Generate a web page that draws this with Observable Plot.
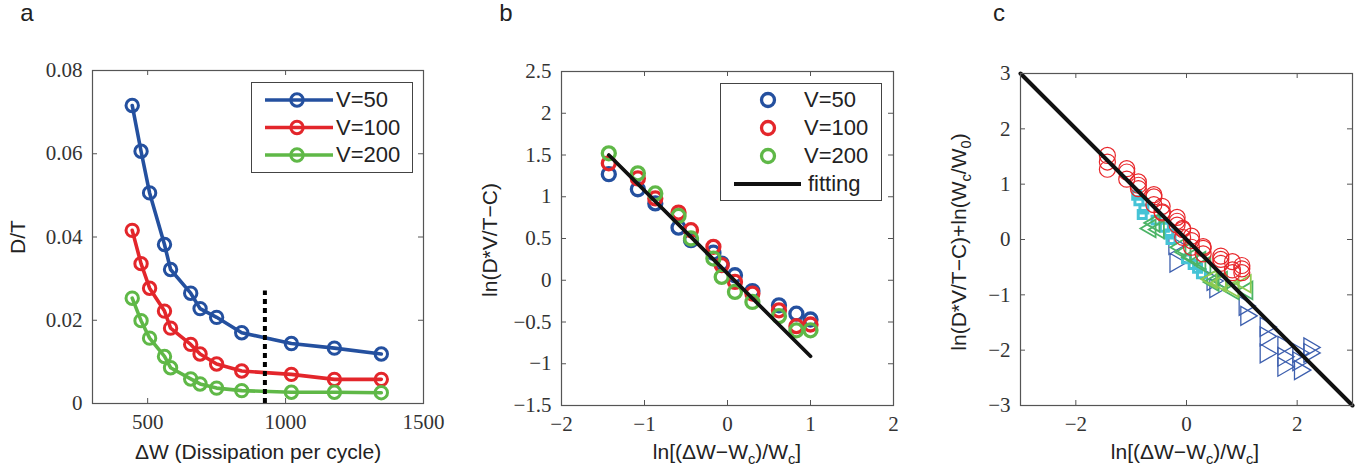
<!DOCTYPE html>
<html>
<head>
<meta charset="utf-8">
<script src="https://cdn.jsdelivr.net/npm/d3@7"></script>
<script src="https://cdn.jsdelivr.net/npm/@observablehq/plot@0.6"></script>
<style>
  html, body { margin: 0; padding: 0; background: #fff; }
  #root { position: relative; width: 1366px; height: 475px; overflow: hidden; }
  .plot { position: absolute; top: 0; }
  .lbl { position: absolute; font-family: "Liberation Sans", Arial, sans-serif; color: #222; white-space: nowrap; line-height: 1; }
  .ctr { transform: translate(-50%, -50%); }
  .rot { transform: translate(-50%, -50%) rotate(-90deg); }
  .lbl sub { font-size: 0.7em; vertical-align: -0.35em; line-height: 0; }
  .legend { position: absolute; border: 1px solid #444; background: #fff; }
  .legend .t { position: absolute; font-family: "Liberation Sans", Arial, sans-serif; font-size: 22px; color: #222; line-height: 1; transform: translateY(-50%); }
  .legend svg { position: absolute; left: 0; top: 0; overflow: visible; }
</style>
</head>
<body>
<div id="root"></div>
<script>
// ---------------- DATA ----------------
// Panel a: D/T vs ΔW
const seriesNames = ["V=50", "V=100", "V=200"];
const seriesColors = ["#24509f", "#e3262b", "#5fb847"];
const dW = [444, 476, 507, 561, 583, 656, 690, 750, 841, 1021, 1177, 1347];
const dtV50  = [0.0716, 0.0606, 0.0506, 0.0382, 0.0322, 0.0265, 0.0228, 0.0207, 0.0170, 0.0144, 0.0133, 0.0119];
const dtV100 = [0.0416, 0.0336, 0.0277, 0.0222, 0.0181, 0.0142, 0.0119, 0.0095, 0.0078, 0.0070, 0.0058, 0.0058];
const dtV200 = [0.0253, 0.0199, 0.0157, 0.0113, 0.0086, 0.0059, 0.0047, 0.0037, 0.0031, 0.0027, 0.0027, 0.0026];
const dashW = 925;
const dashTop = 0.027;
const ticksAX = [500, 1000, 1500];
const ticksAY = [0, 0.02, 0.04, 0.06, 0.08];

// Panel b: ln(D*V/T-C) vs ln[(ΔW-Wc)/Wc]
const lnX    = [-1.43, -1.08, -0.87, -0.59, -0.44, -0.17, -0.07, 0.09, 0.30, 0.62, 0.83, 1.00];
const lnV50  = [1.27, 1.09, 0.92, 0.63, 0.48, 0.33, 0.20, 0.06, -0.13, -0.30, -0.40, -0.47];
const lnV100 = [1.40, 1.22, 0.98, 0.81, 0.60, 0.40, 0.18, -0.02, -0.16, -0.36, -0.55, -0.53];
const lnV200 = [1.52, 1.28, 1.04, 0.77, 0.50, 0.26, 0.04, -0.14, -0.26, -0.43, -0.60, -0.60];
const fitBX = [-1.43, 1.00];
const fitBY = [1.50, -0.91];
const ticksBX = [-2, -1, 0, 1, 2];
const ticksBY = [-1.5, -1, -0.5, 0, 0.5, 1, 1.5, 2, 2.5];

// Panel c: collapsed data
const blueTriX = [-0.22, -0.20, 0.47, 0.52, 1.05, 1.08, 1.43, 1.43, 1.43, 1.75, 1.75, 1.75, 2.02, 2.02, 2.05, 2.22, 2.22];
const blueTriY = [-0.10, -0.42, -0.75, -0.88, -1.20, -1.38, -1.58, -1.75, -2.06, -1.92, -2.12, -2.30, -2.05, -2.20, -2.36, -1.95, -2.05];
const cyanX = [-0.90, -0.86, -0.80, -0.77, -0.55, -0.40, -0.32, -0.28, 0.00, 0.12, 0.20, 0.27];
const cyanY = [0.80, 0.70, 0.45, 0.55, 0.35, 0.22, 0.10, 0.00, -0.35, -0.45, -0.52, -0.62];
const greenX = [-0.65, -0.58, -0.50, -0.11, -0.02, 0.10, 0.25, 0.34, 0.46, 0.49, 0.64, 0.85, 1.10];
const greenY = [0.20, 0.30, 0.18, -0.14, -0.23, -0.32, -0.38, -0.47, -0.71, -0.77, -0.74, -0.92, -0.92];
const limeX = [0.45, 0.62, 0.85, 1.07];
const limeY = [-0.72, -0.78, -0.88, -0.80];
const fitCX = [-3, 3];
const fitCY = [3, -3];
const ticksCX = [-2, 0, 2];
const ticksCY = [-3, -2, -1, 0, 1, 2, 3];

// ---------------- HELPERS ----------------
const fmt = d => String(d).replace("-", "\u2212");
const axisColor = "#555";
const textColor = "#333";
const baseStyle = {fontFamily: "'Liberation Serif', 'Times New Roman', serif", fontSize: "21px", color: textColor, background: "transparent", overflow: "visible"};

function boxTicks(xt, yt, fw, fh, len) {
  return [
    Plot.tickX(xt, {x: d => d, insetTop: fh - len, stroke: axisColor}),
    Plot.tickX(xt, {x: d => d, insetBottom: fh - len, stroke: axisColor}),
    Plot.tickY(yt, {y: d => d, insetRight: fw - len, stroke: axisColor}),
    Plot.tickY(yt, {y: d => d, insetLeft: fw - len, stroke: axisColor})
  ];
}
function axes(xt, yt) {
  return [
    Plot.axisX(xt, {tickSize: 0, tickPadding: 11, tickFormat: fmt, label: null, fill: textColor}),
    Plot.axisY(yt, {tickSize: 0, tickPadding: 10, tickFormat: fmt, label: null, fill: textColor})
  ];
}
function place(svg, left) {
  svg.classList.add("plot");
  svg.style.left = left + "px";
  svg.style.position = "absolute";
  svg.style.top = "0px";
  root.appendChild(svg);
}
function addLabel(html, x, y, size, rotate) {
  const d = document.createElement("div");
  d.className = "lbl " + (rotate ? "rot" : "ctr");
  d.style.left = x + "px";
  d.style.top = y + "px";
  d.style.fontSize = size + "px";
  d.innerHTML = html;
  root.appendChild(d);
}

const root = document.getElementById("root");

// ---------------- PANEL A ----------------
{
  const W = 450, H = 475, ml = 92, mr = 27, mt = 70, mb = 72;
  const fw = W - ml - mr, fh = H - mt - mb;
  const cols = [dtV50, dtV100, dtV200];
  const data = seriesNames.flatMap((s, k) => dW.map((w, i) => ({w, dt: cols[k][i], s})));
  const svg = Plot.plot({
    width: W, height: H, marginLeft: ml, marginRight: mr, marginTop: mt, marginBottom: mb,
    style: baseStyle,
    x: {domain: [300, 1500]},
    y: {domain: [0, 0.08]},
    color: {domain: seriesNames, range: seriesColors},
    marks: [
      ...boxTicks(ticksAX, ticksAY, fw, fh, 5),
      ...axes(ticksAX, ticksAY),
      Plot.line(data, {x: "w", y: "dt", z: "s", stroke: "s", strokeWidth: 3.6}),
      Plot.ruleX([dashW], {x: d => d, y1: 0, y2: dashTop, stroke: "#000", strokeWidth: 4, strokeDasharray: "5,4"}),
      Plot.dot(data, {x: "w", y: "dt", stroke: "s", r: 6.2, strokeWidth: 3, fill: "none"}),
      Plot.frame({stroke: axisColor, strokeWidth: 1.2})
    ]
  });
  place(svg, 0);
}

// ---------------- PANEL B ----------------
{
  const W = 460, H = 475, ml = 111, mr = 17, mt = 71, mb = 70;
  const fw = W - ml - mr, fh = H - mt - mb;
  const cols = [lnV50, lnV100, lnV200];
  const data = seriesNames.flatMap((s, k) => lnX.map((x, i) => ({x, y: cols[k][i], s})));
  const fit = fitBX.map((x, i) => ({x, y: fitBY[i]}));
  const svg = Plot.plot({
    width: W, height: H, marginLeft: ml, marginRight: mr, marginTop: mt, marginBottom: mb,
    style: baseStyle,
    x: {domain: [-2, 2]},
    y: {domain: [-1.5, 2.5]},
    color: {domain: seriesNames, range: seriesColors},
    marks: [
      ...boxTicks(ticksBX, ticksBY, fw, fh, 5),
      ...axes(ticksBX, ticksBY),
      Plot.dot(data, {x: "x", y: "y", stroke: "s", r: 6.5, strokeWidth: 3.3, fill: "none"}),
      Plot.line(fit, {x: "x", y: "y", stroke: "#111", strokeWidth: 3.8}),
      Plot.frame({stroke: axisColor, strokeWidth: 1.2})
    ]
  });
  place(svg, 450);
}

// ---------------- PANEL C ----------------
{
  const W = 456, H = 475, ml = 110, mr = 14, mt = 73, mb = 70;
  const fw = W - ml - mr, fh = H - mt - mb;
  const red = [lnV50, lnV100, lnV200].flatMap(col => lnX.map((x, i) => ({x, y: col[i]})));
  const blue = blueTriX.map((x, i) => ({x, y: blueTriY[i]}));
  const cyan = cyanX.map((x, i) => ({x, y: cyanY[i]}));
  const green = greenX.map((x, i) => ({x, y: greenY[i]}));
  const lime = limeX.map((x, i) => ({x, y: limeY[i]}));
  const fit = fitCX.map((x, i) => ({x, y: fitCY[i]}));
  const svg = Plot.plot({
    width: W, height: H, marginLeft: ml, marginRight: mr, marginTop: mt, marginBottom: mb,
    style: baseStyle,
    x: {domain: [-3, 3]},
    y: {domain: [-3, 3]},
    marks: [
      ...boxTicks(ticksCX, ticksCY, fw, fh, 5),
      ...axes(ticksCX, ticksCY),
      Plot.dot(blue, {x: "x", y: "y", symbol: "triangle", rotate: 90, r: 7, stroke: "#3d5fae", strokeWidth: 1.3, fill: "none"}),
      Plot.dot(cyan, {x: "x", y: "y", symbol: "square", r: 4.5, stroke: "#45c3d6", strokeWidth: 3, fill: "none"}),
      Plot.dot(green, {x: "x", y: "y", symbol: "triangle", rotate: -90, r: 6.5, stroke: "#4cb466", strokeWidth: 1.8, fill: "none"}),
      Plot.dot(lime, {x: "x", y: "y", symbol: "triangle", rotate: -90, r: 6.5, stroke: "#8fcb50", strokeWidth: 1.8, fill: "none"}),
      Plot.dot(red, {x: "x", y: "y", r: 8, stroke: "#e8262a", strokeWidth: 1.2, fill: "none"}),
      Plot.line(fit, {x: "x", y: "y", stroke: "#111", strokeWidth: 4}),
      Plot.frame({stroke: axisColor, strokeWidth: 1.2})
    ]
  });
  place(svg, 910);
}

// ---------------- LEGENDS ----------------
function legend(left, top, w, h, rows) {
  const box = document.createElement("div");
  box.className = "legend";
  box.style.left = left + "px"; box.style.top = top + "px";
  box.style.width = w + "px"; box.style.height = h + "px";
  const ns = "http://www.w3.org/2000/svg";
  const svg = document.createElementNS(ns, "svg");
  svg.setAttribute("width", w); svg.setAttribute("height", h);
  rows.forEach(r => {
    if (r.line) {
      const l = document.createElementNS(ns, "line");
      l.setAttribute("x1", r.lx1); l.setAttribute("x2", r.lx2);
      l.setAttribute("y1", r.y); l.setAttribute("y2", r.y);
      l.setAttribute("stroke", r.color); l.setAttribute("stroke-width", r.lw);
      svg.appendChild(l);
    }
    if (r.circle) {
      const c = document.createElementNS(ns, "circle");
      c.setAttribute("cx", r.cx); c.setAttribute("cy", r.y); c.setAttribute("r", r.cr);
      c.setAttribute("fill", "none"); c.setAttribute("stroke", r.color); c.setAttribute("stroke-width", r.cw);
      svg.appendChild(c);
    }
  });
  box.appendChild(svg);
  rows.forEach(r => {
    const t = document.createElement("div");
    t.className = "t";
    t.style.left = r.tx + "px"; t.style.top = r.y + "px";
    t.textContent = r.label;
    box.appendChild(t);
  });
  root.appendChild(box);
}
legend(251, 82, 160, 89, seriesNames.map((s, i) => ({
  label: s, color: seriesColors[i], y: 17 + i * 27.5,
  line: true, lx1: 13, lx2: 81, lw: 3.6, circle: true, cx: 45, cr: 6.2, cw: 3, tx: 84
})));
legend(720, 83, 160, 116, [
  ...seriesNames.map((s, i) => ({
    label: s, color: seriesColors[i], y: 16 + i * 28,
    circle: true, cx: 47, cr: 6.5, cw: 3.3, tx: 83
  })),
  {label: "fitting", color: "#111", y: 100, line: true, lx1: 13, lx2: 80, lw: 3.8, tx: 87}
]);

// ---------------- TEXT LABELS ----------------
addLabel("a", 27, 13, 24, false);
addLabel("b", 506, 13, 24, false);
addLabel("c", 999, 13, 24, false);
addLabel("\u0394W (Dissipation per cycle)", 258, 451, 21, false);
addLabel("D/T", 17, 237, 21, true);
addLabel("ln[(\u0394W\u2212W<sub>c</sub>)/W<sub>c</sub>]", 727, 451, 21, false);
addLabel("ln(D*V/T\u2212C)", 489, 240, 21, true);
addLabel("ln[(\u0394W\u2212W<sub>c</sub>)/W<sub>c</sub>]", 1185, 451, 21, false);
addLabel("ln(D*V/T\u2212C)+ln(W<sub>c</sub>/W<sub>0</sub>)", 958, 242, 21, true);
</script>
</body>
</html>
